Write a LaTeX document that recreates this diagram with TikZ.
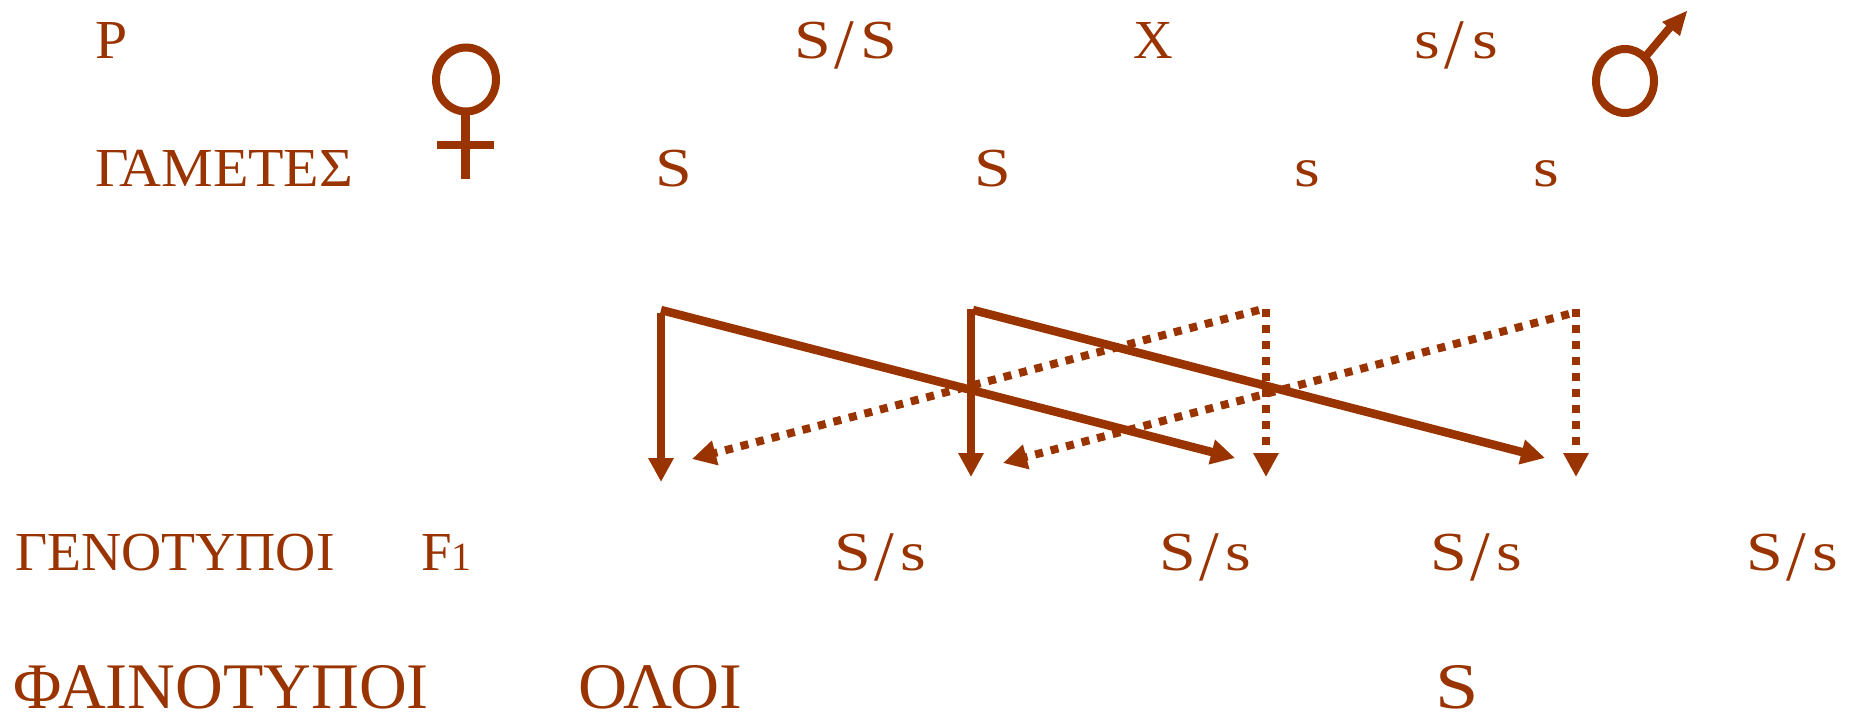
\documentclass[tikz,border=0pt]{standalone}
\usepackage{graphicx}
\usepackage{fontspec}
\setmainfont{Liberation Serif}
\newfontfamily\widefont[FakeStretch=1.2]{Liberation Serif}
\usetikzlibrary{arrows.meta}
\definecolor{rust}{HTML}{993300}
\newcommand{\gslash}{\kern3.5pt\raisebox{-10pt}{\normalfont\fontsize{71}{71}\selectfont /}\kern6.5pt}
\newcommand{\sslash}{\kern5pt\raisebox{-10pt}{\normalfont\fontsize{71}{71}\selectfont /}\kern8pt}
\newcommand{\bigS}{{\widefont S}}
\newcommand{\smalls}{{\widefont s}}
\newcommand{\widen}[2]{\scalebox{#1}[1]{#2}}
\tikzset{
  lbl/.style={anchor=base west,inner sep=0pt,outer sep=0pt,text=rust,text depth=0pt,font=\fontsize{55}{60}\selectfont},
  big/.style={lbl,font=\fontsize{65}{70}\selectfont},
  solidarrow/.style={draw=rust,line width=8.5pt,-{Triangle[width=24pt,length=24pt]}},
  dotarrow/.style={solidarrow,line width=8pt,dash pattern=on 8pt off 8pt},
  symb/.style={draw=rust,line width=8pt},
  symbfill/.style={fill=rust,draw=none}
}
\begin{document}
\begin{tikzpicture}[x=1pt,y=-1pt]
\useasboundingbox (0,0) rectangle (1853,713);
% labels
\node[lbl] (p) at (95,58) {\widen{1.05}{P}};
\node[lbl] (ss1) at (794,58) {\bigS\gslash\bigS};
\node[lbl] (x) at (1133,58) {X};
\node[lbl] (ss2) at (1414,58) {\smalls\sslash\smalls};
\node[lbl] (gam) at (95,186) {\widen{1.055}{ΓΑΜΕΤΕΣ}};
\node[lbl] (g1) at (655,186) {\bigS};
\node[lbl] (g2) at (974,186) {\bigS};
\node[lbl] (g3) at (1294,186) {\smalls};
\node[lbl] (g4) at (1533,186) {\smalls};
\node[lbl] (gen) at (15,570) {\widen{1.012}{ΓΕΝΟΤΥΠΟΙ}};
\node[lbl] (f1) at (421,570) {F{\fontsize{40}{40}\selectfont 1}};
\node[lbl] (r1) at (834,570.5) {\bigS\gslash\smalls};
\node[lbl] (r2) at (1159,570.5) {\bigS\gslash\smalls};
\node[lbl] (r3) at (1430,570.5) {\bigS\gslash\smalls};
\node[lbl] (r4) at (1746,570.5) {\bigS\gslash\smalls};
\node[big] (phi) at (13,708) {\widen{1.017}{ΦΑΙΝΟΤΥΠΟΙ}};
\node[big] (oloi) at (578,708) {\widen{1.045}{ΟΛΟΙ}};
\node[big] (sbig) at (1435,708) {\bigS};
% female symbol
\draw[symb] (466,79.5) ellipse [x radius=30,y radius=32];
\draw[symb,line width=8.5pt] (465.5,111) -- (465.5,179);
\fill[symbfill] (437,141) rectangle (494,149);
% male symbol
\draw[symb] (1625,81) ellipse [x radius=29,y radius=32];
\draw[symb] (1646,56) -- (1672,25);
\fill[symbfill] (1687,11) -- (1662,22) -- (1680,36) -- cycle;
% connector ends
\coordinate (a1) at (661,310);
\coordinate (a2) at (973,310);
\coordinate (b1) at (1266,309);
\coordinate (b2) at (1576,309);
\coordinate (b1s) at (1259,310);
\coordinate (b2s) at (1569,314);
\coordinate (a1s) at (661,313);
\coordinate (a2s) at (971,309);
\coordinate (a1v) at (661,482);
\coordinate (a1d) at (1235,458);
\coordinate (a2v) at (971,477);
\coordinate (a2d) at (1545,458);
\coordinate (b1v) at (1266,477);
\coordinate (b1d) at (692,459);
\coordinate (b2v) at (1576,477);
\coordinate (b2d) at (1003,463);
% connectors
\draw[solidarrow] (a1s) -- (a1v);
\draw[solidarrow] (a1) -- (a1d);
\draw[solidarrow] (a2s) -- (a2v);
\draw[solidarrow] (a2) -- (a2d);
\draw[dotarrow] (b1s) -- (b1d);
\draw[dotarrow] (b1) -- (b1v);
\draw[dotarrow] (b2s) -- (b2d);
\draw[dotarrow] (b2) -- (b2v);
\end{tikzpicture}
\end{document}
